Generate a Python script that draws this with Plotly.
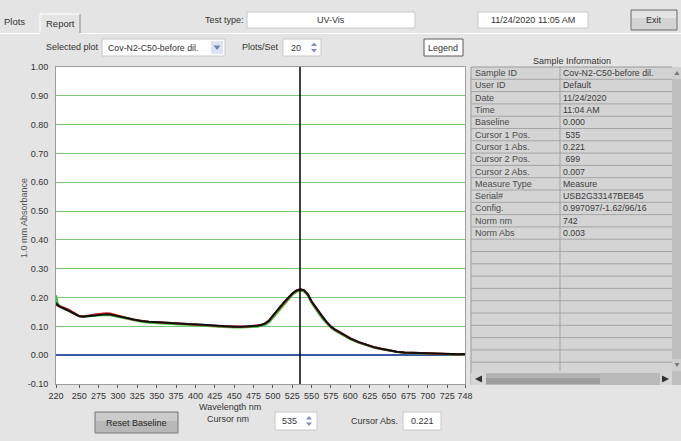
import plotly.graph_objects as go

W, H = 681, 441
FONT = "Liberation Sans, Arial, sans-serif"

# ---------------- data ----------------
wavelength = [220, 222, 225, 230, 235, 240, 245, 250, 255, 260, 265, 270, 275, 280,
              285, 290, 295, 300, 310, 320, 330, 340, 350, 360, 370, 380, 390, 400,
              410, 420, 430, 440, 450, 460, 470, 480, 485, 490, 495, 500, 505, 510,
              515, 520, 525, 530, 535, 540, 545, 550, 555, 560, 565, 570, 575, 580,
              590, 600, 610, 620, 625, 630, 640, 650, 660, 670, 680, 690, 700, 710,
              720, 730, 740, 748]

abs_black = [0.182, 0.174, 0.168, 0.163, 0.156, 0.149, 0.141, 0.135, 0.134, 0.136, 0.137,
             0.138, 0.139, 0.141, 0.142, 0.141, 0.138, 0.135, 0.129, 0.123, 0.119, 0.116,
             0.114, 0.113, 0.112, 0.110, 0.108, 0.107, 0.105, 0.103, 0.101, 0.100, 0.099,
             0.099, 0.100, 0.102, 0.105, 0.110, 0.120, 0.138, 0.153, 0.170, 0.186, 0.201,
             0.214, 0.224, 0.229, 0.226, 0.212, 0.186, 0.166, 0.148, 0.130, 0.113, 0.099,
             0.089, 0.072, 0.058, 0.046, 0.037, 0.032, 0.028, 0.022, 0.016, 0.012, 0.009,
             0.008, 0.007, 0.006, 0.005, 0.005, 0.004, 0.003, 0.004]

abs_red = [0.178, 0.172, 0.170, 0.165, 0.159, 0.152, 0.143, 0.136, 0.134, 0.137, 0.139,
           0.141, 0.143, 0.145, 0.145, 0.144, 0.141, 0.137, 0.130, 0.123, 0.119, 0.116,
           0.115, 0.114, 0.112, 0.110, 0.108, 0.107, 0.105, 0.103, 0.101, 0.100, 0.099,
           0.099, 0.100, 0.102, 0.105, 0.110, 0.120, 0.137, 0.152, 0.169, 0.185, 0.200,
           0.213, 0.223, 0.228, 0.225, 0.211, 0.186, 0.166, 0.148, 0.130, 0.113, 0.099,
           0.089, 0.072, 0.058, 0.046, 0.037, 0.032, 0.028, 0.022, 0.016, 0.012, 0.009,
           0.008, 0.007, 0.006, 0.005, 0.005, 0.004, 0.003, 0.004]

abs_green = [0.208, 0.180, 0.170, 0.164, 0.156, 0.149, 0.141, 0.135, 0.133, 0.135, 0.136,
             0.137, 0.138, 0.140, 0.140, 0.139, 0.136, 0.133, 0.126, 0.120, 0.116, 0.113,
             0.111, 0.110, 0.109, 0.107, 0.106, 0.105, 0.103, 0.101, 0.099, 0.097, 0.096,
             0.096, 0.097, 0.099, 0.102, 0.106, 0.114, 0.130, 0.146, 0.163, 0.180, 0.196,
             0.209, 0.219, 0.224, 0.222, 0.208, 0.181, 0.160, 0.142, 0.124, 0.108, 0.095,
             0.085, 0.069, 0.055, 0.044, 0.035, 0.031, 0.027, 0.021, 0.015, 0.011, 0.008,
             0.007, 0.006, 0.005, 0.004, 0.004, 0.003, 0.002, 0.003]

x_ticks = [220, 250, 275, 300, 325, 350, 375, 400, 425, 450, 475, 500, 525, 550,
           575, 600, 625, 650, 675, 700, 725, 748]
y_ticks = [-0.1, 0.0, 0.1, 0.2, 0.3, 0.4, 0.5, 0.6, 0.7, 0.8, 0.9, 1.0]
y_tick_labels = ["-0.10", "0.00", "0.10", "0.20", "0.30", "0.40", "0.50", "0.60",
                 "0.70", "0.80", "0.90", "1.00"]

cursor_nm = 535
cursor_abs = "0.221"
plots_per_set = "20"
selected_plot = "Cov-N2-C50-before dil."
test_type = "UV-Vis"
timestamp = "11/24/2020 11:05 AM"

info_labels = ["Sample ID", "User ID", "Date", "Time", "Baseline", "Cursor 1 Pos.",
               "Cursor 1 Abs.", "Cursor 2 Pos.", "Cursor 2 Abs.", "Measure Type",
               "Serial#", "Config.", "Norm nm", "Norm Abs"]
info_values = ["Cov-N2-C50-before dil.", "Default", "11/24/2020", "11:04 AM", "0.000",
               " 535", "0.221", " 699", "0.007", "Measure", "USB2G33147BE845",
               "0.997097/-1.62/96/16", "742", "0.003"]

# ---------------- helpers (pixel -> paper) ----------------
shapes, ann = [], []


def px(x):
    return x / W


def py(y):
    return 1 - y / H


def rect(x0, y0, x1, y1, fill=None, line=None, lw=1):
    shapes.append(dict(type="rect", xref="paper", yref="paper",
                       x0=px(x0), x1=px(x1), y0=py(y1), y1=py(y0),
                       fillcolor=fill or "rgba(0,0,0,0)",
                       line=dict(color=line or "rgba(0,0,0,0)", width=lw if line else 0),
                       layer="above"))


def seg(x0, y0, x1, y1, color, lw=1):
    shapes.append(dict(type="line", xref="paper", yref="paper",
                       x0=px(x0), x1=px(x1), y0=py(y0), y1=py(y1),
                       line=dict(color=color, width=lw), layer="above"))


def tri(points, color):
    d = "M " + " L ".join(f"{px(a)},{py(b)}" for a, b in points) + " Z"
    shapes.append(dict(type="path", xref="paper", yref="paper", path=d,
                       fillcolor=color, line=dict(color=color, width=0), layer="above"))


def text(x, y, s, size=9, color="#333333", anchor="left", angle=0):
    ann.append(dict(xref="paper", yref="paper", x=px(x), y=py(y), text=s,
                    showarrow=False, xanchor=anchor, yanchor="middle", textangle=angle,
                    borderpad=0, font=dict(size=size, color=color, family=FONT)))


def spinner(cx, ytop, ybot):
    mid = (ytop + ybot) / 2
    tri([(cx - 3, mid - 1.5), (cx + 3, mid - 1.5), (cx, mid - 5)], "#7d8fb8")
    tri([(cx - 3, mid + 1.5), (cx + 3, mid + 1.5), (cx, mid + 5)], "#7d8fb8")


# ---------------- top bar ----------------
text(3, 22, "Plots", 9.5)
seg(40, 14, 40, 33, "#ffffff", 1)
seg(40, 14, 80, 14, "#ffffff", 1)
seg(80, 14, 80, 33, "#8a8a8a", 1)
text(60, 23, "Report", 9.5, anchor="center")
seg(0, 33.5, 40, 33.5, "#ffffff", 1)
seg(80, 33.5, 681, 33.5, "#ffffff", 1)

text(245, 20, "Test type:", 9, anchor="right")
rect(247, 12, 415, 28, "#ffffff", "#c8c8c8")
text(331, 20, test_type, 9, anchor="center")

rect(478, 12, 588, 28, "#ffffff", "#c8c8c8")
text(533, 20, timestamp, 9, anchor="center")

rect(631, 10, 677, 30, "#d4d4d4", "#6e6e6e")
rect(632, 11, 676, 18, "#e4e4e4")
text(654, 20, "Exit", 9, anchor="center")

# second row
text(100, 47, "Selected plot", 9, anchor="right")
rect(102, 39, 225, 56, "#ffffff", "#c8c8c8")
text(107, 47.5, selected_plot, 8.8)
rect(211, 41, 223, 54, "#dde3f3")
tri([(213.5, 45.5), (220.5, 45.5), (217, 50)], "#6f81b5")

text(280, 47, "Plots/Set", 9, anchor="right")
rect(283, 39, 321, 56, "#ffffff", "#c8c8c8")
text(290, 47.5, plots_per_set, 9)
spinner(314, 40, 55)

rect(424, 39, 463, 56, "#ffffff", "#5a5a5a")
text(443.5, 47.5, "Legend", 9, anchor="center")

text(572, 61, "Sample Information", 9, anchor="center")

# ---------------- info table ----------------
t_left, t_right, t_top, row_h = 471, 672, 67, 12.3
t_bottom = 373
rect(t_left, t_top, t_right, t_bottom, "#d4d4d4")
k = 1
while t_top + k * row_h < t_bottom - 2:
    yy = t_top + k * row_h
    seg(t_left, yy, t_right, yy, "#a4a4a4", 1)
    k += 1
seg(560, t_top, 560, t_bottom - 2, "#a4a4a4", 1)
seg(t_left, t_top, t_left, 385, "#9a9a9a", 1)
seg(t_left, t_top, t_right, t_top, "#9a9a9a", 1)
for i, (lab, val) in enumerate(zip(info_labels, info_values)):
    yc = t_top + row_h * (i + 0.5)
    text(474, yc, lab, 9, "#4a4a4a")
    text(562, yc, val, 8.8, "#3a3a3a")

# vertical scrollbar
rect(672, t_top, 681, 385, "#bfbfbf")
rect(672, t_top, 681, t_top + 12, "#cfcfcf")
tri([(674.5, 75), (679.5, 75), (677, 71)], "#777777")
rect(672, 359, 681, 371, "#cfcfcf")
tri([(674.5, 363), (679.5, 363), (677, 367)], "#777777")
# horizontal scrollbar
rect(t_left, t_bottom, t_right, 385, "#b9b9b9")
rect(t_left, t_bottom, 486, 385, "#d6d6d6")
tri([(475, 379), (482, 375.5), (482, 382.5)], "#333333")
rect(486, 374.5, 600, 384, "#9e9e9e")
rect(486, 374.5, 600, 378, "#b4b4b4")
rect(660, t_bottom, t_right, 385, "#d6d6d6")
tri([(669, 379), (662, 375.5), (662, 382.5)], "#333333")

# ---------------- axis title / bottom controls ----------------
text(24, 218, "1.0 mm Absorbance", 9, "#555555", anchor="center", angle=-90)
text(230, 407, "Wavelength nm", 9, anchor="center")

rect(95, 412, 178, 433, "#b8b8b8", "#7a7a7a")
rect(96, 413, 177, 421, "#cbcbcb")
text(136.5, 423, "Reset Baseline", 9, "#2a2a2a", anchor="center")

text(250, 419, "Cursor nm", 9, anchor="right")
rect(275, 412, 317, 430, "#ffffff", "#c8c8c8")
text(281, 421, str(cursor_nm), 9)
spinner(309, 413, 429)

text(399, 421, "Cursor Abs.", 9, anchor="right")
rect(403, 412, 441, 430, "#ffffff", "#c8c8c8")
text(422, 421, cursor_abs, 9, anchor="center")

# cursor line in data coordinates
shapes.append(dict(type="line", xref="x", yref="y domain", x0=cursor_nm, x1=cursor_nm,
                   y0=0, y1=1, line=dict(color="#000000", width=1.5), layer="above"))

# ---------------- figure ----------------
fig = go.Figure()
fig.add_trace(go.Scatter(x=wavelength, y=abs_green, mode="lines",
                         line=dict(color="#3cc83c", width=2.2), hoverinfo="skip"))
fig.add_trace(go.Scatter(x=wavelength, y=abs_red, mode="lines",
                         line=dict(color="#d42020", width=2.2), hoverinfo="skip"))
fig.add_trace(go.Scatter(x=wavelength, y=abs_black, mode="lines",
                         line=dict(color="#101010", width=2), hoverinfo="skip"))

fig.update_layout(
    width=W, height=H, autosize=False,
    margin=dict(l=0, r=0, t=0, b=0, pad=0),
    paper_bgcolor="#e4e4e4", plot_bgcolor="#ffffff",
    showlegend=False,
    font=dict(family=FONT, size=9, color="#333333"),
    xaxis=dict(domain=[56 / W, 465 / W], range=[220, 748], tickmode="array",
               tickvals=x_ticks, ticktext=[str(v) for v in x_ticks], tickangle=0,
               ticks="outside", ticklen=3, tickcolor="#555555", tickwidth=1,
               tickfont=dict(size=9, color="#333333", family=FONT),
               showgrid=False, zeroline=False, showline=True, linecolor="#9c9c9c",
               mirror=True, automargin=False, fixedrange=True),
    yaxis=dict(domain=[1 - 384 / H, 1 - 67 / H], range=[-0.1, 1.0], tickmode="array",
               tickvals=y_ticks, ticktext=y_tick_labels, ticks="",
               ticklabelstandoff=5,
               tickfont=dict(size=9, color="#333333", family=FONT),
               showgrid=True, gridcolor="#78c878", gridwidth=1,
               zeroline=True, zerolinecolor="#3a5aa8", zerolinewidth=2,
               showline=True, linecolor="#9c9c9c", mirror=True,
               automargin=False, fixedrange=True),
    shapes=shapes, annotations=ann,
)

fig.write_html("out.html", config={"displayModeBar": False},
               post_script="document.body.style.margin='0';")
